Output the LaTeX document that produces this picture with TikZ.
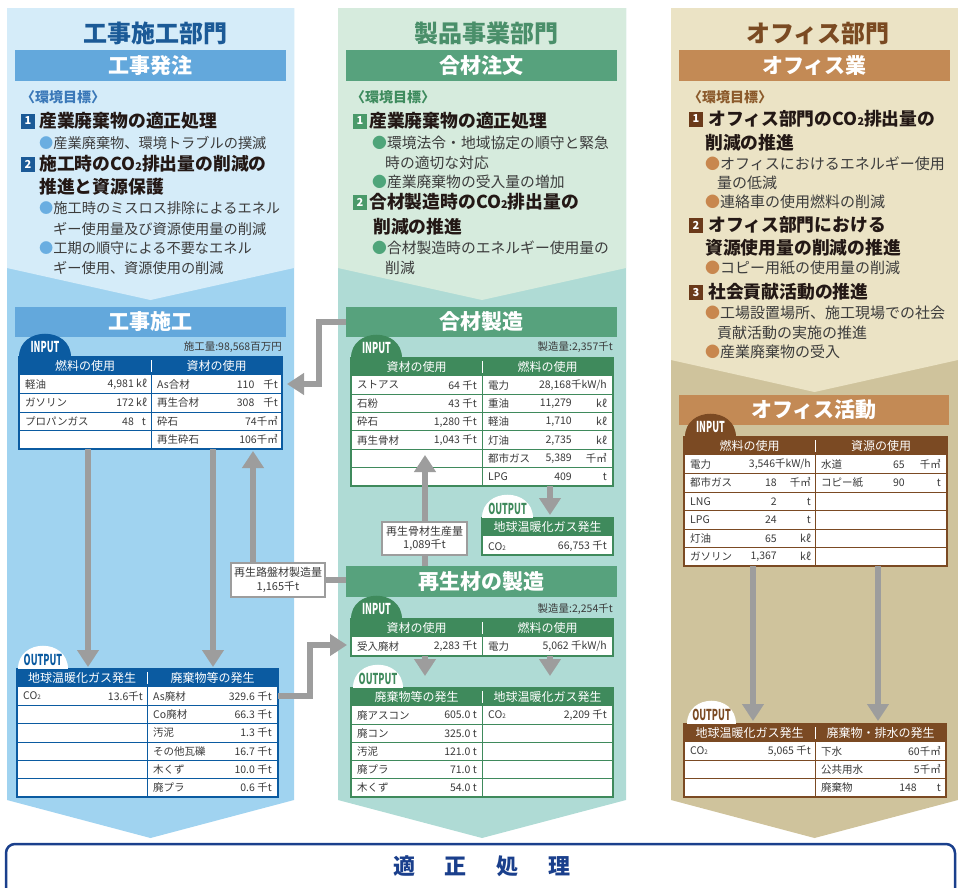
\documentclass[tikz,border=0pt]{standalone}
\usepackage{fontspec}
\setmainfont{Noto Sans CJK JP}
\usetikzlibrary{arrows.meta}
\definecolor{lbL}{HTML}{D5ECF9}
\definecolor{lbD}{HTML}{A0D3F0}
\definecolor{mgL}{HTML}{D6EBDD}
\definecolor{mgD}{HTML}{AFDBD5}
\definecolor{rbL}{HTML}{EBE3C5}
\definecolor{rbD}{HTML}{CFC39C}
\definecolor{bTitle}{HTML}{1B5A97}
\definecolor{gTitle}{HTML}{4A8F6A}
\definecolor{rTitle}{HTML}{7A4A22}
\definecolor{bBand}{HTML}{63A8DC}
\definecolor{gBand}{HTML}{57A27D}
\definecolor{rBand}{HTML}{C38A55}
\definecolor{bTab}{HTML}{0B5BA1}
\definecolor{gTab}{HTML}{3F8A5C}
\definecolor{rTab}{HTML}{7B4A23}
\definecolor{bDot}{HTML}{6AAEE1}
\definecolor{gDot}{HTML}{4FA57A}
\definecolor{rDot}{HTML}{C8874E}
\definecolor{bGoal}{HTML}{3A78B8}
\definecolor{gGoal}{HTML}{3E8B5E}
\definecolor{rGoal}{HTML}{8B5A2B}
\definecolor{bNum}{HTML}{1B5A97}
\definecolor{gNum}{HTML}{4A9A6A}
\definecolor{rNum}{HTML}{6B3A1A}
\definecolor{ink}{HTML}{231815}
\definecolor{txtb}{HTML}{3C3C3C}
\definecolor{cellc}{HTML}{3A3A3A}
\definecolor{arrg}{HTML}{9D9D9D}
\definecolor{navy}{HTML}{1A3F8C}
\newcommand\fsz[1]{\fontsize{#1}{#1}\selectfont}
\newcommand\cotwo{CO\scalebox{0.6}{2}}
% table: x0, x1, xdiv, top, nrows, rowh, color, name
\newcommand\tabl[8]{%
  \fill[white] (#1,#4) rectangle (#2,{#4+18+#5*#6});
  \fill[#7] (#1,#4) rectangle (#2,{#4+18});
  \foreach \i in {1,...,#5} {\draw[#7, line width=1] (#1,{#4+18+\i*#6}) -- (#2,{#4+18+\i*#6});}
  \draw[#7, line width=1] (#3,{#4+18}) -- (#3,{#4+18+#5*#6});
  \draw[white, line width=1] (#3,{#4+3}) -- (#3,{#4+15});
  \draw[#7, line width=1.6] (#1,#4) rectangle (#2,{#4+18+#5*#6});
  \node[inner sep=0, outer sep=0, minimum width={#2-#1}, minimum height={18+#5*#6}, anchor=north west] (#8) at (#1,#4) {};
}
% dome: x0, x1, base, fill, text colour, text, name
\newcommand\dome[7]{%
  \fill[#4] (#1,#3) .. controls (#1,{#3-31}) and (#2,{#3-31}) .. (#2,#3) -- cycle;
  \node[inner sep=0, text=#5, font=\fsz{15}\bfseries] (#7) at ({(#1+#2)/2},{#3-9.5}) {\scalebox{0.6}[1]{#6}};
}
\begin{document}
\begin{tikzpicture}[x=1pt,y=-1pt,
  t/.style={inner sep=0, anchor=west, execute at begin node={\vphantom{国}}},
  hd/.style={t, font=\fsz{17.8}\bfseries, text=ink},
  bl/.style={t, font=\fsz{#1}, text=txtb},
  goal/.style={t, font=\fsz{14}\bfseries, text=#1},
  nb/.style={fill=#1, text=white, font=\fsz{11}\bfseries, minimum width=14, minimum height=15, inner sep=0},
  tt/.style={inner sep=0, font=\fsz{24}\bfseries, text=#1},
  band/.style={fill=#1, text=white, font=\fsz{21}\bfseries, minimum height=30, inner sep=0},
  c/.style={inner sep=0, anchor=west, font=\fsz{10.5}, text=cellc, execute at begin node={\vphantom{国}}},
  v/.style={c, anchor=east},
  h/.style={inner sep=0, font=\fsz{12}, text=white, execute at begin node={\vphantom{国}}},
  arr/.style={draw=arrg, line width=6.5, -{Triangle[width=21pt,length=17pt]}},
  lab/.style={draw=arrg, fill=white, line width=1.2, align=center, font=\fontsize{11}{13.5}\selectfont, text=cellc, inner sep=2}
]
\useasboundingbox (0,0) rectangle (958,887);
% ---------- column backgrounds ----------
\fill[lbD] (7,8) -- (294,8) -- (294,800) -- (150.5,838) -- (7,800) -- cycle;
\fill[lbL] (7,8) -- (294,8) -- (294,268) -- (150.5,300) -- (7,268) -- cycle;
\fill[mgD] (338,8) -- (626,8) -- (626,800) -- (482,838) -- (338,800) -- cycle;
\fill[mgL] (338,8) -- (626,8) -- (626,268) -- (482,300) -- (338,268) -- cycle;
\fill[rbD] (671,8) -- (958,8) -- (958,800) -- (814.5,838) -- (671,800) -- cycle;
\fill[rbL] (671,8) -- (958,8) -- (958,360) -- (814.5,392) -- (671,360) -- cycle;
% ---------- titles and bands ----------
\node[tt=bTitle] (ttl1) at (155,33) {工事施工部門};
\node[tt=gTitle] (ttl2) at (486,33) {製品事業部門};
\node[tt=rTitle] (ttl3) at (818,33) {オフィス部門};
\node[band=bBand, minimum width=271, minimum height=31] (B0a) at (150.5,65.5) {工事発注};
\node[band=gBand, minimum width=271, minimum height=31] (B0b) at (481.5,65.5) {合材注文};
\node[band=rBand, minimum width=271, minimum height=31] (B0c) at (814.5,65.5) {オフィス業};
% ---------- left goals ----------
\node[goal=bGoal] (g1) at (21,97) {〈環境目標〉};
\node[nb=bNum] (n11) at (28,121) {1};
\node[hd] (h11) at (39,121) {産業廃棄物の適正処理};
\node[bl=14.2] (b11) at (39,143) {{\color{bDot}●}産業廃棄物、環境トラブルの撲滅};
\node[nb=bNum] (n12) at (28,164) {2};
\node[hd] (h12) at (39,164) {施工時の\cotwo 排出量の削減の};
\node[hd] (h12b) at (39,187) {推進と資源保護};
\node[bl=14.2] (b12) at (39,208) {{\color{bDot}●}施工時のミスロス排除によるエネル};
\node[bl=14.2] (b12b) at (53,229) {ギー使用量及び資源使用量の削減};
\node[bl=14.2] (b13) at (39,248) {{\color{bDot}●}工期の順守による不要なエネル};
\node[bl=14.2] (b13b) at (53,268) {ギー使用、資源使用の削減};
% ---------- middle goals ----------
\node[goal=gGoal] (g2) at (351,97) {〈環境目標〉};
\node[nb=gNum] (n21) at (360,121) {1};
\node[hd] (h21) at (369,121) {産業廃棄物の適正処理};
\node[bl=14.8] (b21) at (372,143) {{\color{gDot}●}環境法令・地域協定の順守と緊急};
\node[bl=14.8] (b21b) at (385,163) {時の適切な対応};
\node[bl=14.8] (b22) at (372,182) {{\color{gDot}●}産業廃棄物の受入量の増加};
\node[nb=gNum] (n22) at (360,202) {2};
\node[hd] (h22) at (369,202) {合材製造時の\cotwo 排出量の};
\node[hd] (h22b) at (373,227) {削減の推進};
\node[bl=14.8] (b23) at (372,248) {{\color{gDot}●}合材製造時のエネルギー使用量の};
\node[bl=14.8] (b23b) at (385,268) {削減};
% ---------- right goals ----------
\node[goal=rGoal] (g3) at (688,97) {〈環境目標〉};
\node[nb=rNum] (n31) at (696,119) {1};
\node[hd] (h31) at (708,119) {オフィス部門の\cotwo 排出量の};
\node[hd] (h31b) at (705,143) {削減の推進};
\node[bl=15] (b31) at (705,164) {{\color{rDot}●}オフィスにおけるエネルギー使用};
\node[bl=15] (b31b) at (717,183) {量の低減};
\node[bl=15] (b32) at (705,202) {{\color{rDot}●}連絡車の使用燃料の削減};
\node[nb=rNum] (n32) at (696,225) {2};
\node[hd] (h32) at (708,225) {オフィス部門における};
\node[hd] (h32b) at (705,248) {資源使用量の削減の推進};
\node[bl=15] (b33) at (705,268) {{\color{rDot}●}コピー用紙の使用量の削減};
\node[nb=rNum] (n33) at (696,292) {3};
\node[hd] (h33) at (708,292) {社会貢献活動の推進};
\node[bl=15] (b34) at (705,313) {{\color{rDot}●}工場設置場所、施工現場での社会};
\node[bl=15] (b34b) at (717,333) {貢献活動の実施の推進};
\node[bl=15] (b35) at (705,352) {{\color{rDot}●}産業廃棄物の受入};
% ---------- section bands ----------
\node[band=bBand, minimum width=271] (B1) at (150.5,322) {工事施工};
\node[band=gBand, minimum width=271] (B2) at (481.5,322) {合材製造};
\node[band=gBand, minimum width=271, minimum height=31] (B3) at (481.5,581.5) {再生材の製造};
\node[band=rBand, minimum width=270] (B4) at (814,410) {オフィス活動};
\node[c, anchor=east] (q1) at (282,347) {施工量:98,568百万円};
\node[c, anchor=east] (q2) at (613,347) {製造量:2,357千t};
\node[c, anchor=east] (q3) at (613,609) {製造量:2,254千t};
% ---------- T1 left input ----------
\tabl{19}{282}{151}{357}{4}{18.5}{bTab}{T1}
\node[h] (T1h1) at (85,366) {燃料の使用};
\node[h] (T1h2) at (216.5,366) {資材の使用};
\node[c] (T1a1) at (25,384.25) {軽油};
\node[c] (T1a2) at (25,402.75) {ガソリン};
\node[c] (T1a3) at (25,421.25) {プロパンガス};
\node[v] (T1b1) at (147,384.25) {4,981 kℓ};
\node[v] (T1b2) at (147,402.75) {172 kℓ};
\node[v] (T1b3) at (146,421.25) {48\hspace{8pt}t};
\node[c] (T1c1) at (157,384.25) {As合材};
\node[c] (T1c2) at (157,402.75) {再生合材};
\node[c] (T1c3) at (157,421.25) {砕石};
\node[c] (T1c4) at (157,439.75) {再生砕石};
\node[v] (T1d1) at (278,384.25) {110\hspace{9pt}千t};
\node[v] (T1d2) at (278,402.75) {308\hspace{9pt}千t};
\node[v] (T1d3) at (278,421.25) {74千㎥};
\node[v] (T1d4) at (278,439.75) {106千㎥};
\dome{19}{71}{357}{bTab}{white}{INPUT}{D1}
% ---------- T2 left output ----------
\tabl{17}{278}{147}{669}{6}{18.33}{bTab}{T2}
\node[h] (T2h1) at (82,678) {地球温暖化ガス発生};
\node[h] (T2h2) at (212.5,678) {廃棄物等の発生};
\node[c] (T2a1) at (23,696.2) {\cotwo};
\node[v] (T2b1) at (143,696.2) {13.6千t};
\node[c] (T2c1) at (153,696.2) {As廃材};
\node[c] (T2c2) at (153,714.5) {Co廃材};
\node[c] (T2c3) at (153,732.8) {汚泥};
\node[c] (T2c4) at (153,751.2) {その他瓦礫};
\node[c] (T2c5) at (153,769.5) {木くず};
\node[c] (T2c6) at (153,787.8) {廃プラ};
\node[v] (T2d1) at (272,696.2) {329.6 千t};
\node[v] (T2d2) at (272,714.5) {66.3 千t};
\node[v] (T2d3) at (272,732.8) {1.3 千t};
\node[v] (T2d4) at (272,751.2) {16.7 千t};
\node[v] (T2d5) at (272,769.5) {10.0 千t};
\node[v] (T2d6) at (272,787.8) {0.6 千t};
\dome{18}{68}{669}{white}{bTab}{OUTPUT}{D2}
% ---------- T3 middle input ----------
\tabl{351}{613}{482}{358}{6}{18.33}{gTab}{T3}
\node[h] (T3h1) at (416.5,367) {資材の使用};
\node[h] (T3h2) at (547.5,367) {燃料の使用};
\node[c] (T3a1) at (357,385.2) {ストアス};
\node[c] (T3a2) at (357,403.5) {石粉};
\node[c] (T3a3) at (357,421.8) {砕石};
\node[c] (T3a4) at (357,440.2) {再生骨材};
\node[v] (T3b1) at (477,385.2) {64 千t};
\node[v] (T3b2) at (477,403.5) {43 千t};
\node[v] (T3b3) at (477,421.8) {1,280 千t};
\node[v] (T3b4) at (477,440.2) {1,043 千t};
\node[c] (T3c1) at (488,385.2) {電力};
\node[c] (T3c2) at (488,403.5) {重油};
\node[c] (T3c3) at (488,421.8) {軽油};
\node[c] (T3c4) at (488,440.2) {灯油};
\node[c] (T3c5) at (488,458.5) {都市ガス};
\node[c] (T3c6) at (488,476.8) {LPG};
\node[v] (T3d1) at (607,385.2) {28,168千kW/h};
\node[v] (T3d2) at (572,403.5) {11,279};
\node[v] (T3d3) at (572,421.8) {1,710};
\node[v] (T3d4) at (572,440.2) {2,735};
\node[v] (T3d5) at (572,458.5) {5,389};
\node[v] (T3d6) at (572,476.8) {409};
\node[v] (T3e2) at (607,403.5) {kℓ};
\node[v] (T3e3) at (607,421.8) {kℓ};
\node[v] (T3e4) at (607,440.2) {kℓ};
\node[v] (T3e5) at (607,458.5) {千㎥};
\node[v] (T3e6) at (607,476.8) {t};
\dome{351}{402}{358}{gTab}{white}{INPUT}{D3}
% ---------- T4 middle small output ----------
\tabl{482}{613}{482}{518}{1}{19}{gTab}{T4}
\node[h] (T4h1) at (547.5,527) {地球温暖化ガス発生};
\node[c] (T4a1) at (488,546.5) {\cotwo};
\node[v] (T4b1) at (607,546.5) {66,753 千t};
\dome{482}{533}{518}{white}{gTab}{OUTPUT}{D4}
% ---------- T5 recycled input ----------
\tabl{351}{613}{482}{619}{1}{19}{gTab}{T5}
\node[h] (T5h1) at (416.5,628) {資材の使用};
\node[h] (T5h2) at (547.5,628) {燃料の使用};
\node[c] (T5a1) at (357,646.5) {受入廃材};
\node[v] (T5b1) at (477,646.5) {2,283 千t};
\node[c] (T5c1) at (488,646.5) {電力};
\node[v] (T5d1) at (607,646.5) {5,062 千kW/h};
\dome{351}{402}{619}{gTab}{white}{INPUT}{D5}
% ---------- T6 recycled output ----------
\tabl{351}{613}{482}{688}{5}{18.2}{gTab}{T6}
\node[h] (T6h1) at (416.5,697) {廃棄物等の発生};
\node[h] (T6h2) at (547.5,697) {地球温暖化ガス発生};
\node[c] (T6a1) at (357,715.1) {廃アスコン};
\node[c] (T6a2) at (357,733.3) {廃コン};
\node[c] (T6a3) at (357,751.5) {汚泥};
\node[c] (T6a4) at (357,769.7) {廃プラ};
\node[c] (T6a5) at (357,787.9) {木くず};
\node[v] (T6b1) at (477,715.1) {605.0 t};
\node[v] (T6b2) at (477,733.3) {325.0 t};
\node[v] (T6b3) at (477,751.5) {121.0 t};
\node[v] (T6b4) at (477,769.7) {71.0 t};
\node[v] (T6b5) at (477,787.9) {54.0 t};
\node[c] (T6c1) at (488,715.1) {\cotwo};
\node[v] (T6d1) at (607,715.1) {2,209 千t};
\dome{353}{403}{688}{white}{gTab}{OUTPUT}{D6}
% ---------- T7 office input ----------
\tabl{684}{947}{815}{437}{6}{18.5}{rTab}{T7}
\node[h] (T7h1) at (749.5,446) {燃料の使用};
\node[h] (T7h2) at (881,446) {資源の使用};
\node[c] (T7a1) at (690,464.25) {電力};
\node[c] (T7a2) at (690,482.75) {都市ガス};
\node[c] (T7a3) at (690,501.25) {LNG};
\node[c] (T7a4) at (690,519.75) {LPG};
\node[c] (T7a5) at (690,538.25) {灯油};
\node[c] (T7a6) at (690,556.75) {ガソリン};
\node[v] (T7b1) at (811,464.25) {3,546千kW/h};
\node[v] (T7b2) at (777,482.75) {18};
\node[v] (T7b3) at (777,501.25) {2};
\node[v] (T7b4) at (777,519.75) {24};
\node[v] (T7b5) at (777,538.25) {65};
\node[v] (T7b6) at (777,556.75) {1,367};
\node[v] (T7e2) at (811,482.75) {千㎥};
\node[v] (T7e3) at (811,501.25) {t};
\node[v] (T7e4) at (811,519.75) {t};
\node[v] (T7e5) at (811,538.25) {kℓ};
\node[v] (T7e6) at (811,556.75) {kℓ};
\node[c] (T7c1) at (821,464.25) {水道};
\node[c] (T7c2) at (821,482.75) {コピー紙};
\node[v] (T7d1) at (905,464.25) {65};
\node[v] (T7d2) at (905,482.75) {90};
\node[v] (T7f1) at (941,464.25) {千㎥};
\node[v] (T7f2) at (941,482.75) {t};
\dome{685}{736}{437}{rTab}{white}{INPUT}{D7}
% ---------- T8 office output ----------
\tabl{684}{946}{815}{724}{3}{18.33}{rTab}{T8}
\node[h] (T8h1) at (749.5,733) {地球温暖化ガス発生};
\node[h] (T8h2) at (880.5,733) {廃棄物・排水の発生};
\node[c] (T8a1) at (690,751.2) {\cotwo};
\node[v] (T8b1) at (811,751.2) {5,065 千t};
\node[c] (T8c1) at (821,751.2) {下水};
\node[c] (T8c2) at (821,769.5) {公共用水};
\node[c] (T8c3) at (821,787.8) {廃棄物};
\node[v] (T8d1) at (941,751.2) {60千㎥};
\node[v] (T8d2) at (941,769.5) {5千㎥};
\node[v] (T8d3) at (917,787.8) {148};
\node[v] (T8e3) at (941,787.8) {t};
\dome{687}{736}{724}{white}{rTab}{OUTPUT}{D8}
% ---------- connectors ----------
\node[lab, minimum width=94, minimum height=34] (L1) at (278,580) {再生路盤材製造量\\1,165千t};
\coordinate (p1) at (88,667);
\coordinate (p2) at (213,667);
\coordinate (p3) at (253,451);
\coordinate (p4) at (287,384);
\coordinate (p5) at (347,645);
\coordinate (r5) at (0,696);
\coordinate (p7) at (425,455);
\coordinate (p8) at (550,515);
\coordinate (p9) at (425,676);
\coordinate (p10) at (550,676);
\coordinate (p11) at (753,721);
\coordinate (p12) at (878,721);
\draw[arr] (T1.south -| p1) -- (p1);
\draw[arr] (T1.south -| p2) -- (p2);
\draw[arr] (L1.north -| p3) -- (p3);
\draw[arr] (B2.west) -- ++(-27,0) |- (p4);
\draw[arr] (T2.east |- r5) -- ++(32,0) |- (p5);
\draw[draw=arrg, line width=6] (L1.east) -- (L1.east -| B3.west);
\draw[arr] (B3.north -| p7) -- (p7);
\draw[arr] (T3.south -| p8) -- (p8);
\draw[arr] (T5.south -| p9) -- (p9);
\draw[arr] (T5.south -| p10) -- (p10);
\draw[arr] (T7.south -| p11) -- (p11);
\draw[arr] (T7.south -| p12) -- (p12);
\node[lab, minimum width=85, minimum height=33] (L2) at (424.5,538.5) {再生骨材生産量\\1,089千t};
% ---------- bottom box ----------
\draw[navy, line width=2.5, rounded corners=9, fill=white] (6,844) rectangle (955,905);
\node[inner sep=0, font=\fsz{22}\bfseries, text=navy] (tek) at (482,866) {適\hspace{30pt}正\hspace{30pt}処\hspace{30pt}理};
\end{tikzpicture}
\end{document}
